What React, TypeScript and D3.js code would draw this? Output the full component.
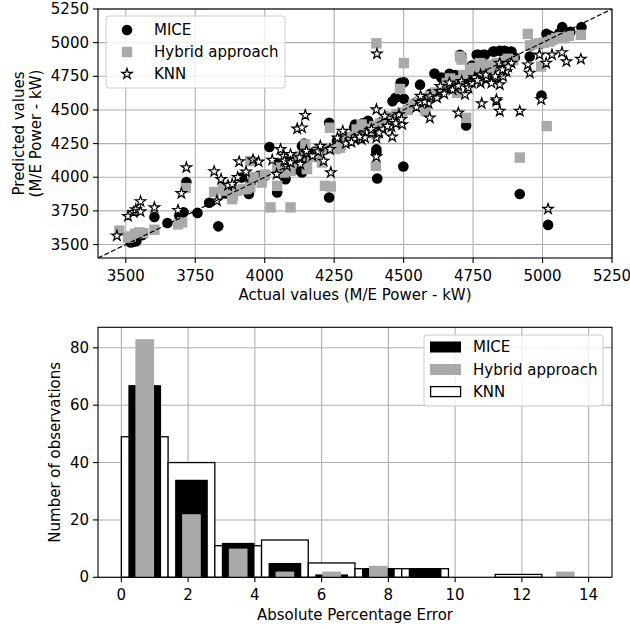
import React from 'react';
import * as d3 from 'd3';

// ---------- Scatter data: [actual, predicted] ----------
const micePoints: [number, number][] = [
  [3518, 3515], [3538, 3525], [3528, 3520], [3603, 3705], [3693, 3712], [3708, 3740], [3718, 3965],
  [3758, 3735], [3833, 3635], [3883, 3924], [3918, 3998], [3943, 3875], [3978, 4010], [4017, 4225],
  [4045, 3887], [4075, 3986], [4052, 4100], [4092, 4120], [4105, 4146], [4134, 4232], [4142, 4250],
  [4134, 4035], [4117, 4060], [4232, 4405], [4232, 3850], [4325, 4392], [4322, 4370], [4352, 4400],
  [4372, 4420], [4402, 4207], [4402, 4183], [4405, 3991], [4460, 4565], [4471, 4590], [4489, 4701],
  [4501, 4706], [4501, 4583], [4499, 4080], [4559, 4688], [4596, 4620], [4611, 4770], [4636, 4740],
  [4665, 4769], [4686, 4760], [4703, 4910], [4709, 4897], [4725, 4384], [4746, 4830], [4763, 4910],
  [4769, 4910], [4787, 4910], [4793, 4910], [4822, 4934], [4826, 4934], [4846, 4940], [4864, 4940],
  [4888, 4934], [4954, 4897], [4996, 4607], [5014, 5065], [5071, 5115], [5140, 5115], [4918, 3875],
  [5020, 3646], [5027, 5050], [5047, 5040],
  [3560, 3570], [3650, 3660], [3800, 3810], [3860, 3880], [3950, 3960], [4000, 4010],
  [4150, 4140], [4180, 4190], [4210, 4200], [4260, 4270], [4290, 4300], [4310, 4290], [4340, 4330],
  [4370, 4360], [4390, 4380], [4420, 4410], [4440, 4450], [4480, 4470], [4520, 4510], [4540, 4550],
  [4580, 4570], [4620, 4610], [4650, 4660], [4680, 4700], [4720, 4730], [4740, 4760], [4770, 4780],
  [4800, 4790], [4830, 4820], [4860, 4850], [4900, 4890], [4960, 4980], [4990, 4990], [5060, 5070],
  [5100, 5080],
];

const hybridPoints: [number, number][] = [
  [3477, 3603], [3508, 3550], [3518, 3560], [3533, 3580], [3548, 3590], [3563, 3585], [3603, 3610],
  [3688, 3650], [3703, 3665], [3716, 3920], [3770, 5285], [3818, 3890], [3850, 3917], [3858, 3900],
  [3883, 3837], [3901, 3899], [3934, 3912], [3948, 3924], [3922, 3912], [3886, 3862], [3948, 4120],
  [3989, 3960], [4021, 3776], [4093, 3776], [4045, 4072], [4069, 4035], [4093, 4047], [4128, 4158],
  [4152, 4060], [4146, 4244], [4045, 3936], [4152, 4072], [4206, 4109], [4217, 3936], [4235, 4368],
  [4238, 3931], [4271, 4219], [4331, 4355], [4349, 4392], [4400, 4085], [4402, 4318], [4402, 4995],
  [4450, 4416], [4487, 4656], [4501, 4848], [4561, 4565], [4579, 4491], [4596, 4603], [4667, 4734],
  [4692, 4627], [4703, 4897], [4709, 4874], [4725, 4441], [4739, 4800], [4751, 4812], [4775, 4848],
  [4799, 4836], [4846, 4836], [4918, 4146], [4947, 5065], [4989, 4995], [4995, 4823], [5015, 4380],
  [5025, 5008], [5049, 5033], [5078, 5033], [5138, 5058],
  [4255, 4210], [4275, 4240], [4295, 4280], [4315, 4300], [4335, 4320], [4355, 4340], [4375, 4360],
  [4395, 4380], [4415, 4400], [4435, 4420], [4455, 4450], [4475, 4470], [4495, 4480], [4515, 4500],
  [4535, 4540], [4555, 4560], [4575, 4590], [4615, 4630], [4635, 4650], [4655, 4700], [4695, 4720],
  [4715, 4760], [4755, 4790], [4785, 4800], [4815, 4810], [4835, 4850], [4865, 4860], [4875, 4880],
  [4895, 4870], [4955, 4980], [4975, 4990], [5005, 5000], [5035, 5020], [5065, 5040], [5095, 5050],
  [4170, 4150], [4190, 4180], [4230, 4210], [3960, 4000], [4000, 4020], [4100, 4100], [4120, 4130],
];

const knnPoints: [number, number][] = [
  [3468, 3565], [3508, 3710], [3528, 3740], [3536, 3760], [3553, 3820], [3553, 3745], [3603, 3775],
  [3688, 3755], [3700, 3880], [3718, 4072], [3818, 4043], [3843, 3985], [3828, 3825], [3868, 3940],
  [3883, 3949], [3908, 4116], [3903, 4000], [3933, 4040], [3958, 4130], [3978, 4115], [4027, 4128],
  [4043, 4023], [4057, 4207], [4069, 4158], [4080, 4084], [4093, 4170], [4117, 4360], [4134, 4368],
  [4146, 4461], [4152, 4178], [4128, 4097], [4126, 4146], [4071, 4121], [4093, 4109], [4150, 4195],
  [4200, 4232], [4212, 4121], [4235, 4207], [4238, 4035], [4262, 4293], [4281, 4343], [4325, 4281],
  [4349, 4281], [4367, 4331], [4361, 4294], [4384, 4355], [4402, 4294], [4402, 4153], [4404, 4917],
  [4402, 4503], [4408, 4335], [4426, 4355], [4432, 4454], [4456, 4375], [4459, 4301], [4461, 4416],
  [4483, 4466], [4495, 4392], [4559, 4557], [4561, 4603], [4590, 4548], [4594, 4441], [4620, 4590],
  [4630, 4639], [4632, 4676], [4665, 4701], [4686, 4664], [4697, 4478], [4709, 4713], [4721, 4615],
  [4733, 4664], [4777, 4701], [4777, 4762], [4781, 4548], [4797, 4725], [4799, 4734], [4829, 4737],
  [4830, 4749], [4834, 4565], [4834, 4577], [4846, 4491], [4846, 4688], [4846, 4848], [4858, 4749],
  [4870, 4786], [4888, 4848], [4918, 4491], [4947, 4836], [4954, 4775], [4989, 4910], [4995, 4577],
  [5013, 4848], [5020, 3764], [5034, 4910], [5070, 4927], [5086, 4860], [5138, 4878],
  [4192, 4190], [4172, 4160], [4292, 4250], [4312, 4260], [4342, 4300], [4412, 4330], [4442, 4380],
  [4472, 4400], [4492, 4430], [4546, 4520], [4576, 4560], [4596, 4600], [4646, 4620], [4676, 4650],
  [4696, 4680], [4746, 4700], [4756, 4740], [4766, 4720], [4796, 4760], [4816, 4700], [4856, 4800],
  [4876, 4820],
];

const scatterTicks = [3500, 3750, 4000, 4250, 4500, 4750, 5000, 5250];
const scatterDomain = [3400, 5250];

// ---------- Histogram data ----------
const binEdges = [0, 1.4, 2.8, 4.2, 5.6, 7.0, 8.4, 9.8, 11.2, 12.6, 14.0];
const knnCounts = [49, 40, 11, 13, 5, 3, 3, 0, 1, 0];
const miceCounts = [67, 34, 12, 5, 1, 3, 3, 0, 0, 0];
const hybridCounts = [83, 22, 10, 2, 2, 4, 0, 0, 0, 2];
const histXTicks = [0, 2, 4, 6, 8, 10, 12, 14];
const histYTicks = [0, 20, 40, 60, 80];
const histXDomain = [-0.7, 14.7];
const histYDomain = [0, 87.15];

const legendScatter = ['MICE', 'Hybrid approach', 'KNN'];
const legendHist = ['MICE', 'Hybrid approach', 'KNN'];

const GRAY = '#a9a9a9';
const GRID = '#b0b0b0';
const FONT = 'DejaVu Sans, sans-serif';
const FS = 15;

const starPath = d3.symbol().type(d3.symbolStar).size(34)() as string;

function Scatter() {
  const L = 98, R = 612, T = 9, B = 258;
  const x = d3.scaleLinear().domain(scatterDomain).range([L, R]);
  const y = d3.scaleLinear().domain(scatterDomain).range([B, T]);
  const line = d3.line<number>().x((d) => x(d)).y((d) => y(d));
  return (
    <g>
      <defs>
        <clipPath id="clipS">
          <rect x={L} y={T} width={R - L} height={B - T} />
        </clipPath>
      </defs>
      {scatterTicks.map((t) => (
        <g key={'g' + t}>
          <line x1={x(t)} x2={x(t)} y1={T} y2={B} stroke={GRID} strokeWidth={1.1} />
          <line x1={L} x2={R} y1={y(t)} y2={y(t)} stroke={GRID} strokeWidth={1.1} />
        </g>
      ))}
      <g clipPath="url(#clipS)">
        {micePoints.map((p, i) => (
          <circle key={'m' + i} cx={x(p[0])} cy={y(p[1])} r={5.3} fill="#000" />
        ))}
        {hybridPoints.map((p, i) => (
          <rect key={'h' + i} x={x(p[0]) - 5.2} y={y(p[1]) - 5.2} width={10.4} height={10.4} fill={GRAY} />
        ))}
        {knnPoints.map((p, i) => (
          <path key={'k' + i} d={starPath} transform={`translate(${x(p[0])},${y(p[1])})`}
            fill="#fff" stroke="#000" strokeWidth={1.2} strokeLinejoin="miter" />
        ))}
        <path d={line(scatterDomain) as string} stroke="#000" strokeWidth={1.2} strokeDasharray="5,2.2" fill="none" />
      </g>
      <rect x={L} y={T} width={R - L} height={B - T} fill="none" stroke="#000" strokeWidth={1.1} />
      {scatterTicks.map((t) => (
        <g key={'t' + t}>
          <line x1={x(t)} x2={x(t)} y1={B} y2={B + 5} stroke="#000" strokeWidth={1.1} />
          <text x={x(t)} y={B + 18} textAnchor="middle" dominantBaseline="central" fontSize={FS} fontFamily={FONT}>{t}</text>
          <line x1={L - 5} x2={L} y1={y(t)} y2={y(t)} stroke="#000" strokeWidth={1.1} />
          <text x={L - 9} y={y(t)} textAnchor="end" dominantBaseline="central" fontSize={FS} fontFamily={FONT}>{t}</text>
        </g>
      ))}
      <text x={(L + R) / 2} y={295} textAnchor="middle" dominantBaseline="central" fontSize={FS} fontFamily={FONT}>Actual values (M/E Power - kW)</text>
      <g transform={`translate(19,${(T + B) / 2}) rotate(-90)`}>
        <text x={0} y={0} textAnchor="middle" dominantBaseline="central" fontSize={FS} fontFamily={FONT}>Predicted values</text>
      </g>
      <g transform={`translate(36,${(T + B) / 2}) rotate(-90)`}>
        <text x={0} y={0} textAnchor="middle" dominantBaseline="central" fontSize={FS} fontFamily={FONT}>(M/E Power - kW)</text>
      </g>
      {/* legend */}
      <rect x={106} y={16} width={179} height={72} rx={3} fill="#fff" fillOpacity={0.8} stroke="#cccccc" strokeWidth={1} />
      <circle cx={127} cy={30} r={5.3} fill="#000" />
      <rect x={127 - 5.2} y={52 - 5.2} width={10.4} height={10.4} fill={GRAY} />
      <path d={starPath} transform="translate(127,74)" fill="#fff" stroke="#000" strokeWidth={1.2} />
      {legendScatter.map((s, i) => (
        <text key={s} x={154} y={30 + i * 22} dominantBaseline="central" fontSize={FS} fontFamily={FONT}>{s}</text>
      ))}
    </g>
  );
}

function Histogram() {
  const L = 98, R = 612, T = 327.3, B = 577.3;
  const x = d3.scaleLinear().domain(histXDomain).range([L, R]);
  const y = d3.scaleLinear().domain(histYDomain).range([B, T]);
  const bars = (counts: number[], frac: number, fill: string, stroke: string | null, key: string) =>
    counts.map((c, i) => {
      const w = binEdges[i + 1] - binEdges[i];
      const cx = (binEdges[i] + binEdges[i + 1]) / 2;
      const x0 = x(cx - (w * frac) / 2);
      const x1 = x(cx + (w * frac) / 2);
      if (c === 0 && !stroke) return null;
      return (
        <rect key={key + i} x={x0} y={y(c)} width={x1 - x0} height={B - y(c)} fill={fill}
          stroke={stroke || 'none'} strokeWidth={stroke ? 1.3 : 0} />
      );
    });
  return (
    <g>
      {histXTicks.map((t) => (
        <line key={'gx' + t} x1={x(t)} x2={x(t)} y1={T} y2={B} stroke={GRID} strokeWidth={1.1} />
      ))}
      {histYTicks.map((t) => (
        <line key={'gy' + t} x1={L} x2={R} y1={y(t)} y2={y(t)} stroke={GRID} strokeWidth={1.1} />
      ))}
      {bars(knnCounts, 1.0, '#fff', '#000', 'k')}
      {bars(miceCounts, 0.7, '#000', null, 'm')}
      {bars(hybridCounts, 0.4, GRAY, null, 'h')}
      <rect x={L} y={T} width={R - L} height={B - T} fill="none" stroke="#000" strokeWidth={1.1} />
      {histXTicks.map((t) => (
        <g key={'tx' + t}>
          <line x1={x(t)} x2={x(t)} y1={B} y2={B + 5} stroke="#000" strokeWidth={1.1} />
          <text x={x(t)} y={B + 17.5} textAnchor="middle" dominantBaseline="central" fontSize={FS} fontFamily={FONT}>{t}</text>
        </g>
      ))}
      {histYTicks.map((t) => (
        <g key={'ty' + t}>
          <line x1={L - 5} x2={L} y1={y(t)} y2={y(t)} stroke="#000" strokeWidth={1.1} />
          <text x={L - 9} y={y(t)} textAnchor="end" dominantBaseline="central" fontSize={FS} fontFamily={FONT}>{t}</text>
        </g>
      ))}
      <text x={(L + R) / 2} y={615} textAnchor="middle" dominantBaseline="central" fontSize={FS} fontFamily={FONT}>Absolute Percentage Error</text>
      <g transform={`translate(55,${(T + B) / 2}) rotate(-90)`}>
        <text x={0} y={0} textAnchor="middle" dominantBaseline="central" fontSize={FS} fontFamily={FONT}>Number of observations</text>
      </g>
      {/* legend */}
      <rect x={424} y={335} width={179} height={71} rx={3} fill="#fff" fillOpacity={0.8} stroke="#cccccc" strokeWidth={1} />
      <rect x={430} y={341.5} width={31} height={11} fill="#000" />
      <rect x={430} y={364} width={31} height={11} fill={GRAY} />
      <rect x={430.6} y={386.6} width={30} height={10} fill="#fff" stroke="#000" strokeWidth={1.3} />
      {legendHist.map((s, i) => (
        <text key={s} x={473} y={347 + i * 22.5} dominantBaseline="central" fontSize={FS} fontFamily={FONT}>{s}</text>
      ))}
    </g>
  );
}

export default function App() {
  return (
    <svg width={630} height={629} style={{ position: 'absolute', left: 0, top: 0, background: '#fff' }}>
      <rect x={0} y={0} width={630} height={629} fill="#fff" />
      <Scatter />
      <Histogram />
    </svg>
  );
}
